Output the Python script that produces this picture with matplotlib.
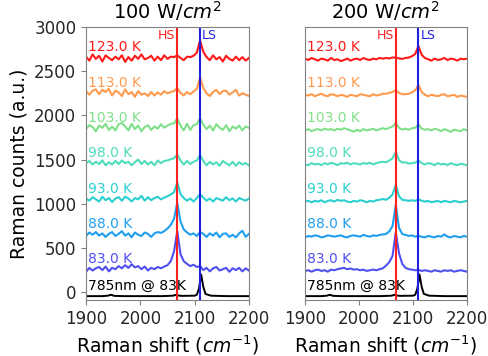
import matplotlib
matplotlib.use('Agg')
import matplotlib.pyplot as plt
import numpy as np

# -----------------------------------------------------------------------------
# Data
# -----------------------------------------------------------------------------
shift = np.arange(1900, 2201, 6)  # Raman shift grid, cm^-1
temps = ['83.0 K', '88.0 K', '93.0 K', '98.0 K', '103.0 K', '113.0 K', '123.0 K']
colors = ['#5050f0', '#1f9ff0', '#2ccfcf', '#4fdcbc', '#80e08a', '#ff9a4d', '#ff1a1a']
label_y = [370, 770, 1170, 1570, 1970, 2370, 2770]

hs_pos = 2068
ls_pos = 2110

# 100 W/cm^2 : baseline + deviation per temperature
base_100 = [260, 650, 1050, 1460, 1860, 2250, 2650]
dev_100 = [
    [-30, 15, -15, 10, 25, -10, 30, -25, 15, 0,
     35, 10, 45, 15, 55, 20, 35, 0, 30, -15,
     15, 0, 25, 10, 30, 45, 90, 200, 430,
     170, 90, 60, 35, 50, 25, 35, -10, 15,
     -25, 10, 25, -15, 0, 15, -30, 10, -10, 15, -25, 10, -15],
    [-15, 25, 0, 30, -10, 15, -25, 10, 30, -15,
     10, 40, -10, 15, -30, 25, 0, -15, 25, 10,
     -25, 15, 30, 20, 40, 70, 110, 180, 360,
     150, 60, 25, 0, 15, -15, 30, 10, -25,
     15, -10, 25, -30, 10, 15, -25, 0, -30, 15, 45, -25, 10],
    [10, -15, 25, 0, -25, 30, -10, 15, -30, 10,
     25, -15, 30, 10, -25, 15, 0, 40, -15, 25,
     -10, 15, 30, 0, 20, 35, 55, 80, 195,
     60, 15, -15, 10, -25, 15, 60, 20, -15,
     10, -25, 15, 0, -15, 25, -10, 10, -25, 15, 0, -15, 10],
    [0, 25, -15, 15, -10, 30, -25, 10, -15, 25,
     -10, 30, 0, 15, -25, 10, 40, -10, 25, -15,
     15, -25, 30, 0, 25, 30, 45, 55, 100,
     30, -15, 25, -10, 15, 30, 90, 25, -25,
     15, -15, 10, -30, 25, 0, -25, 15, -30, 10, -15, 0, -25],
    [-15, 30, 10, -40, 25, 0, 45, -25, 15, -30,
     40, 55, 15, -30, 45, -15, 25, -40, 10, 30,
     -25, 15, -10, 40, 0, 25, 45, 50, 110,
     25, -30, 45, -25, 30, 40, 110, 35, -15,
     25, -30, 40, 0, -25, 30, -40, 15, -10, 25, -30, 15, 0],
    [25, -15, 30, 45, -10, 40, 15, 50, -25, 30,
     10, -30, 45, -10, 15, -40, 25, -15, 0, -30,
     15, -25, 10, -15, 25, 0, 15, 25, 60,
     5, -25, 15, -10, 20, 50, 180, 60, 0,
     -30, 15, 40, -10, 25, 30, -15, 10, 40, -25, 0, -15, -30],
    [15, -30, 40, -10, 25, -40, 30, 0, -25, 15,
     -15, 30, -45, 10, -30, 25, -10, 40, -15, 0,
     25, -30, 15, -25, 30, -10, 15, 10, 30,
     0, -25, 15, 10, 25, 60, 200, 70, 10,
     -25, 30, -15, 10, -40, 25, -10, -30, 15, -25, 10, -30, 0],
]

# 200 W/cm^2
base_200 = [240, 628, 1025, 1445, 1830, 2225, 2635]
dev_200 = [
    [0, 8, -8, 8, 15, 0, 8, -8, 15, 8,
     20, 28, 35, 20, 28, 15, 20, 8, 15, 0,
     8, 15, 8, 20, 30, 60, 100, 170, 440,
     200, 80, 35, 20, 15, 8, 12, 0, 8,
     0, -8, 8, 0, -8, 8, 0, 8, -8, 0, 8, 0, -8],
    [-8, 8, 0, 15, 8, -8, 0, 15, 8, 0,
     8, 15, 0, -8, 8, 15, 8, 0, 20, 8,
     0, 15, 8, 20, 25, 30, 60, 120, 360,
     100, 30, 20, 8, 15, 0, 8, 0, -8,
     8, 0, -8, 8, 0, 25, 0, -8, 8, 0, -8, 8, 0],
    [0, 8, -8, 8, 0, 15, -8, 8, 15, 0,
     20, 8, 15, 0, -8, 8, 0, 15, 8, -8,
     8, 0, 15, 20, 30, 20, 45, 80, 190,
     60, 20, 15, 8, 15, 8, 25, 10, 0,
     8, -8, 0, 8, -8, 8, 0, -8, 8, 0, -8, 0, 8],
    [0, -8, 15, 0, 8, -8, 15, 0, 20, 8,
     -8, 15, 8, 20, 0, 15, 8, 0, 15, 8,
     20, 0, 15, 25, 30, 25, 45, 70, 145,
     50, 20, 25, 10, 15, 20, 45, 15, 0,
     15, 8, -8, 15, 0, 8, -8, 15, 0, -8, 8, 0, -8],
    [0, 15, -8, 8, 15, 0, 20, 8, 15, 0,
     20, 8, 25, 15, 0, -15, 8, -8, 15, 0,
     8, 20, 0, 15, 25, 15, 30, 45, 85,
     30, 10, 20, 8, 25, 30, 70, 20, 8,
     15, 0, 20, 8, -8, 15, 0, -15, 8, 0, -8, 15, 0],
    [8, 0, 15, -8, 8, 20, 0, -8, 15, 8,
     -8, 8, 0, -15, 8, 0, -8, 15, 8, 0,
     -8, 15, 0, 8, 20, 20, 30, 40, 60,
     30, 15, 15, 20, 35, 60, 120, 40, 10,
     -8, 8, 0, -8, 8, 15, -8, 0, 8, -15, 0, -8, -15],
    [8, -8, 15, 0, -15, 8, 0, -15, 15, -8,
     0, -20, -8, 8, -15, 0, 8, -8, 15, 0,
     -8, 8, 0, 15, 8, 15, 10, 20, 20,
     10, 5, 15, 20, 35, 60, 150, 50, 15,
     0, -15, 8, -8, 0, 15, -8, 8, 0, -15, 8, 0, 8],
]

# 785 nm reference spectrum at 83 K
ref_shift = [1900, 1930, 1940, 1946, 1952, 1970, 2040, 2060, 2066, 2070, 2076,
             2100, 2104, 2108, 2112, 2116, 2120, 2130, 2160, 2200]
ref_counts = [-45, -45, -40, -30, -42, -45, -45, -40, -30, -38, -42,
              -40, -30, 40, 200, 60, -20, -40, -45, -45]

# -----------------------------------------------------------------------------
# Plot
# -----------------------------------------------------------------------------
plt.rcParams['font.family'] = 'DejaVu Sans'
fig = plt.figure(figsize=(4.89, 3.56), dpi=100)
ax1 = fig.add_axes([0.176, 0.157, 0.333, 0.767])
ax2 = fig.add_axes([0.624, 0.157, 0.331, 0.767])

panels = [(ax1, base_100, dev_100, '100 W/$cm^2$'),
          (ax2, base_200, dev_200, '200 W/$cm^2$')]
for ax, bases, devs, title in panels:
    for i in range(len(temps)):
        ax.plot(shift, bases[i] + np.array(devs[i]), color=colors[i], lw=1.5)
        ax.text(1903, label_y[i], temps[i], color=colors[i], fontsize=10,
                ha='left', va='center')
    ax.plot(ref_shift, ref_counts, color='black', lw=1.4)
    ax.text(1903, 68, '785nm @ 83K', color='black', fontsize=10,
            ha='left', va='center')
    ax.axvline(hs_pos, color='#ff2020', lw=1.5)
    ax.axvline(ls_pos, color='#2020e0', lw=1.5)
    ax.text(hs_pos - 3, 2910, 'HS', color='#ff2020', fontsize=9, ha='right', va='center')
    ax.text(ls_pos + 4, 2910, 'LS', color='#2020e0', fontsize=9, ha='left', va='center')
    ax.set_xlim(1900, 2200)
    ax.set_ylim(-90, 3000)
    ax.set_xticks([1900, 2000, 2100, 2200])
    ax.tick_params(labelsize=12, colors='0.15', color='0.5')
    for sp in ax.spines.values():
        sp.set_color('0.5')
    ax.set_xlabel('Raman shift ($cm^{-1}$)', fontsize=13.5)
    ax.set_title(title, fontsize=14)

ax1.set_yticks([0, 500, 1000, 1500, 2000, 2500, 3000])
ax1.set_ylabel('Raman counts (a.u.)', fontsize=13.5)
ax2.set_yticks([])

fig.savefig('out.png', dpi=100)
